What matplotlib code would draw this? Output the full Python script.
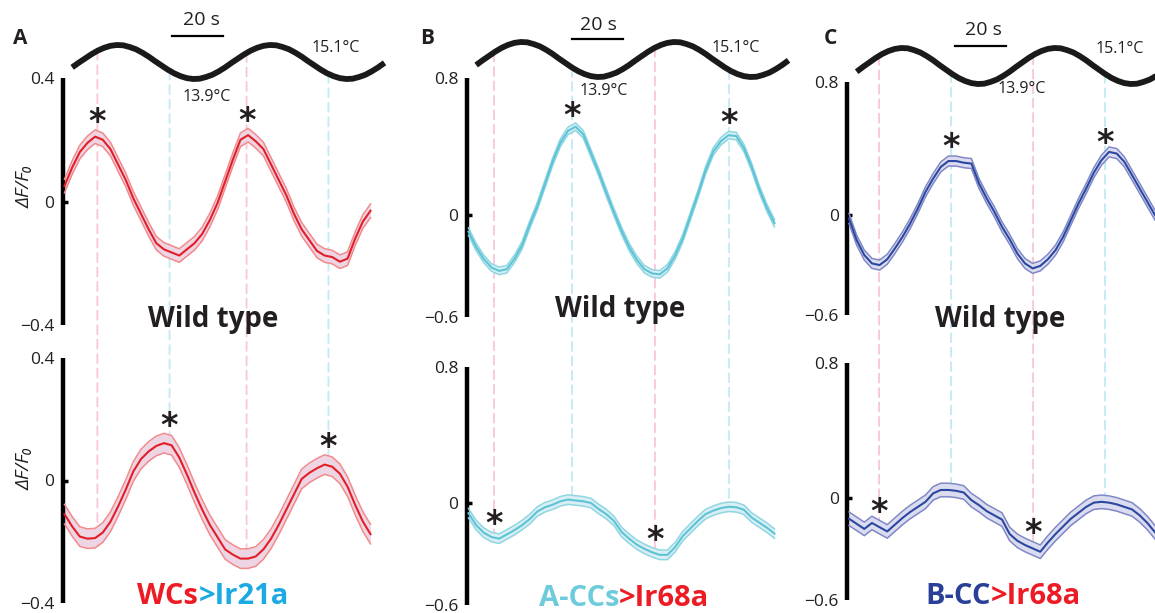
import numpy as np
import matplotlib.pyplot as plt
from matplotlib.patches import ConnectionPatch
from matplotlib.offsetbox import TextArea, HPacker, AnnotationBbox

plt.rcParams['font.family'] = ['Open Sans', 'DejaVu Sans']

W, H = 1155, 613

# time axis of the calcium traces (s)
t = np.arange(0, 121, 3)

# mean dF/F0 traces
a_top = [0.05, 0.11, 0.16, 0.19, 0.21, 0.20, 0.17, 0.12, 0.07, 0.01,
         -0.04, -0.09, -0.135, -0.155, -0.165, -0.175, -0.155, -0.135, -0.105, -0.06,
         -0.005, 0.065, 0.135, 0.20, 0.215, 0.195, 0.17, 0.12, 0.07, 0.02,
         -0.04, -0.09, -0.125, -0.16, -0.175, -0.18, -0.195, -0.185, -0.12, -0.065,
         -0.03]
a_bot = [-0.11, -0.15, -0.183, -0.19, -0.188, -0.17, -0.135, -0.085, -0.03, 0.03,
         0.07, 0.095, 0.113, 0.122, 0.115, 0.075, 0.02, -0.04, -0.095, -0.145,
         -0.185, -0.225, -0.242, -0.255, -0.255, -0.248, -0.225, -0.19, -0.145, -0.095,
         -0.045, 0.005, 0.025, 0.04, 0.052, 0.045, 0.022, -0.02, -0.08, -0.134,
         -0.175]
b_top = [-0.10, -0.19, -0.26, -0.31, -0.33, -0.32, -0.26, -0.18, -0.06, 0.05,
         0.18, 0.31, 0.42, 0.49, 0.515, 0.47, 0.36, 0.25, 0.13, 0.015,
         -0.095, -0.19, -0.265, -0.32, -0.345, -0.35, -0.315, -0.24, -0.14, -0.01,
         0.12, 0.26, 0.37, 0.43, 0.465, 0.46, 0.39, 0.28, 0.15, 0.04,
         -0.05]
b_bot = [-0.06, -0.13, -0.175, -0.2, -0.21, -0.185, -0.16, -0.13, -0.095, -0.05,
         -0.025, -0.01, 0.01, 0.02, 0.015, 0.01, 0.0, -0.035, -0.065, -0.105,
         -0.17, -0.21, -0.245, -0.27, -0.29, -0.305, -0.305, -0.26, -0.195, -0.15,
         -0.105, -0.065, -0.045, -0.03, -0.022, -0.025, -0.04, -0.085, -0.115, -0.145,
         -0.18]
c_top = [-0.02, -0.15, -0.24, -0.29, -0.30, -0.265, -0.2, -0.13, -0.05, 0.04,
         0.14, 0.22, 0.29, 0.325, 0.325, 0.315, 0.31, 0.19, 0.10, 0.02,
         -0.07, -0.145, -0.23, -0.29, -0.32, -0.305, -0.265, -0.21, -0.13, -0.03,
         0.07, 0.16, 0.255, 0.33, 0.38, 0.37, 0.32, 0.24, 0.16, 0.08,
         0.0]
c_bot = [-0.12, -0.15, -0.18, -0.145, -0.17, -0.195, -0.155, -0.115, -0.08, -0.05,
         -0.02, 0.03, 0.05, 0.05, 0.045, 0.035, -0.01, -0.04, -0.075, -0.1,
         -0.125, -0.21, -0.25, -0.275, -0.295, -0.315, -0.26, -0.21, -0.165, -0.12,
         -0.085, -0.05, -0.025, -0.02, -0.025, -0.035, -0.05, -0.065, -0.1, -0.145,
         -0.2]
# s.e.m. half widths
sem = {'a_top': 0.022, 'a_bot': 0.032, 'b_top': 0.022, 'b_bot': 0.028,
       'c_top': 0.03, 'c_bot': 0.04}

# temperature stimulus (deg C)
temp_t = np.arange(3, 126, 2.5)
temp_v = [14.31, 14.47, 14.62, 14.77, 14.90, 15.00, 15.07, 15.10, 15.09, 15.03,
          14.95, 14.83, 14.69, 14.53, 14.38, 14.23, 14.10, 14.00, 13.93, 13.90,
          13.91, 13.97, 14.05, 14.17, 14.31, 14.47, 14.62, 14.77, 14.90, 15.00,
          15.07, 15.10, 15.09, 15.03, 14.95, 14.83, 14.69, 14.53, 14.38, 14.23,
          14.10, 14.00, 13.93, 13.90, 13.91, 13.97, 14.05, 14.17, 14.31, 14.47]

# warming (pink) / cooling (cyan) reference times per column
ref_a = [12.9, 41.2, 71.4, 103.5]
ref_b = [10.0, 40.6, 73.1, 102.2]
ref_c = [11.8, 40.0, 72.2, 100.4]
ref_colors = ['#f7c6da', '#c2e9f5', '#f7c6da', '#c2e9f5']

colors = {
    'red': dict(main='#e31e26', edge='#f28a8c', fill='#eed5e4'),
    'cyan': dict(main='#5cc4d6', edge='#8fd6e2', fill='#d9eff4'),
    'blue': dict(main='#2b48a0', edge='#8088c6', fill='#dcdcf0'),
}

PXS = 2.55  # pixels per second
AXW = 312
XLIM = (-2 / PXS, (AXW - 2) / PXS)

fig = plt.figure(figsize=(W / 100, H / 100), dpi=100)


def px_ax(x0, y_top, y_bot):
    return fig.add_axes([x0 / W, 1 - y_bot / H, AXW / W, (y_bot - y_top) / H])


def ftext(x, y, s, **kw):
    return fig.text(x / W, 1 - y / H, s, **kw)


def style_trace_ax(ax, ylim, ticks, labels):
    ax.set_xlim(XLIM)
    ax.set_ylim(ylim)
    ax.patch.set_visible(False)
    for sp in ['top', 'right', 'bottom']:
        ax.spines[sp].set_visible(False)
    ax.spines['left'].set_linewidth(3.2)
    ax.spines['left'].set_capstyle('butt')
    ax.set_xticks([])
    ax.set_yticks(ticks, labels)
    ax.tick_params(axis='y', direction='in', length=3.5, width=2.5, pad=6,
                   labelsize=12.5, labelcolor='#231f20')
    for tk, v in zip(ax.yaxis.get_major_ticks(), ticks):
        if v != 0:
            tk.tick1line.set_visible(False)


def draw_trace(ax, y, s, c):
    y = np.asarray(y)
    ax.fill_between(t, y - s, y + s, color=c['fill'], lw=0, zorder=2)
    ax.plot(t, y - s, color=c['edge'], lw=1.1, zorder=3)
    ax.plot(t, y + s, color=c['edge'], lw=1.1, zorder=3)
    ax.plot(t, y, color=c['main'], lw=1.5, zorder=4)


columns = [
    dict(spine=62.5, top=(78, 325), bot=(358, 603), temp=(45, 79),
         ylim=(-0.4, 0.4), ticks=[-0.4, 0, 0.4], labels=['\u22120.4', '0', '0.4'],
         ytop=a_top, ybot=a_bot, stop=sem['a_top'], sbot=sem['a_bot'], col='red',
         refs=ref_a, star_top=[0, 2], star_bot=[1, 3],
         letter=('A', 20, 39), sb=(42.0, 1.26), sbtxt=(201, 20),
         hi=(336, 47.5), lo=(207, 97), wt=(213, 327),
         geno=(213, 597, [('WCs', '#ed1c24'), ('>Ir21a', '#1baae1')])),
    dict(spine=466.5, top=(78, 317), bot=(367, 605), temp=(42, 77),
         ylim=(-0.6, 0.8), ticks=[-0.6, 0, 0.8], labels=['\u22120.6', '0', '0.8'],
         ytop=b_top, ybot=b_bot, stop=sem['b_top'], sbot=sem['b_bot'], col='cyan',
         refs=ref_b, star_top=[1, 3], star_bot=[0, 2],
         letter=('B', 427, 38), sb=(40.6, 1.09), sbtxt=(598, 25),
         hi=(736, 47.5), lo=(604, 91), wt=(620, 317),
         geno=(624, 598, [('A-CCs', '#6dcbdb'), ('>Ir68a', '#ed1c24')])),
    dict(spine=847, top=(82, 315), bot=(363, 600), temp=(48, 84),
         ylim=(-0.6, 0.8), ticks=[-0.6, 0, 0.8], labels=['\u22120.6', '0', '0.8'],
         ytop=c_top, ybot=c_bot, stop=sem['c_top'], sbot=sem['c_bot'], col='blue',
         refs=ref_c, star_top=[1, 3], star_bot=[0, 2],
         letter=('C', 830, 38), sb=(41.6, 1.06), sbtxt=(983, 30),
         hi=(1120, 49), lo=(1022, 89), wt=(1000, 327),
         geno=(1003, 597, [('B-CC', '#2a3f97'), ('>Ir68a', '#ed1c24')])),
]

dark = '#231f20'

for cfg in columns:
    ax_t = px_ax(cfg['spine'], *cfg['temp'])
    ax_t.set_xlim(XLIM)
    ax_t.set_ylim(13.9, 15.1)
    ax_t.axis('off')
    ax_t.plot(temp_t, temp_v, color='#1a1a1a', lw=4.2, clip_on=False,
              solid_capstyle='butt')
    sb0, sby = cfg['sb']
    ax_t.plot([sb0, sb0 + 20], [sby, sby], transform=ax_t.get_xaxis_transform(),
              color='black', lw=1.6, clip_on=False)

    ax1 = px_ax(cfg['spine'], *cfg['top'])
    ax2 = px_ax(cfg['spine'], *cfg['bot'])
    for ax in (ax1, ax2):
        style_trace_ax(ax, cfg['ylim'], cfg['ticks'], cfg['labels'])
    c = colors[cfg['col']]
    draw_trace(ax1, cfg['ytop'], cfg['stop'], c)
    draw_trace(ax2, cfg['ybot'], cfg['sbot'], c)

    # dashed reference lines from the temperature trace down to the lower trace
    for tr, rc in zip(cfg['refs'], ref_colors):
        con = ConnectionPatch(
            xyA=(tr, np.interp(tr, temp_t, temp_v)), coordsA=ax_t.transData,
            xyB=(tr, np.interp(tr, t, cfg['ybot']) + cfg['sbot']), coordsB=ax2.transData,
            color=rc, lw=1.3, linestyle=(0, (5, 3)), zorder=-1)
        fig.add_artist(con)

    # significance asterisks
    for ax, idx, y, s in ((ax1, cfg['star_top'], cfg['ytop'], cfg['stop']),
                          (ax2, cfg['star_bot'], cfg['ybot'], cfg['sbot'])):
        for i in idx:
            tr = cfg['refs'][i]
            ax.annotate('*', xy=(tr, np.interp(tr, t, y) + s), xytext=(0, -1),
                        textcoords='offset points', ha='center', va='baseline',
                        fontsize=24, fontweight='bold', color=dark,
                        annotation_clip=False, family=['DejaVu Sans'])

    lt, lx, ly = cfg['letter']
    ftext(lx, ly, lt, fontsize=15, fontweight='bold', ha='center', va='center', color=dark)
    ftext(*cfg['sbtxt'], '20 s', fontsize=14, ha='center', va='center', color=dark)
    ftext(*cfg['hi'], '15.1\u00b0C', fontsize=11.5, ha='center', va='center', color=dark)
    ftext(*cfg['lo'], '13.9\u00b0C', fontsize=11.5, ha='center', va='center', color=dark)
    ftext(*cfg['wt'], 'Wild type', fontsize=20, fontweight='bold', ha='center',
          va='baseline', color=dark)

    gx, gy, parts = cfg['geno']
    areas = [TextArea(s, textprops=dict(color=col, fontsize=21, fontweight='bold'))
             for s, col in parts]
    box = HPacker(children=areas, align='baseline', pad=0, sep=0)
    ab = AnnotationBbox(box, (gx / W, 1 - gy / H), xycoords='figure fraction',
                        frameon=False, box_alignment=(0.5, 0.5))
    fig.add_artist(ab)

# y labels (column A only)
for yc in (186, 468):
    ftext(25, yc, '\u0394F/F\u2080', rotation=90, fontsize=14, style='italic',
          ha='center', va='center', color=dark)

fig.savefig('out.png', dpi=100, facecolor='white')
